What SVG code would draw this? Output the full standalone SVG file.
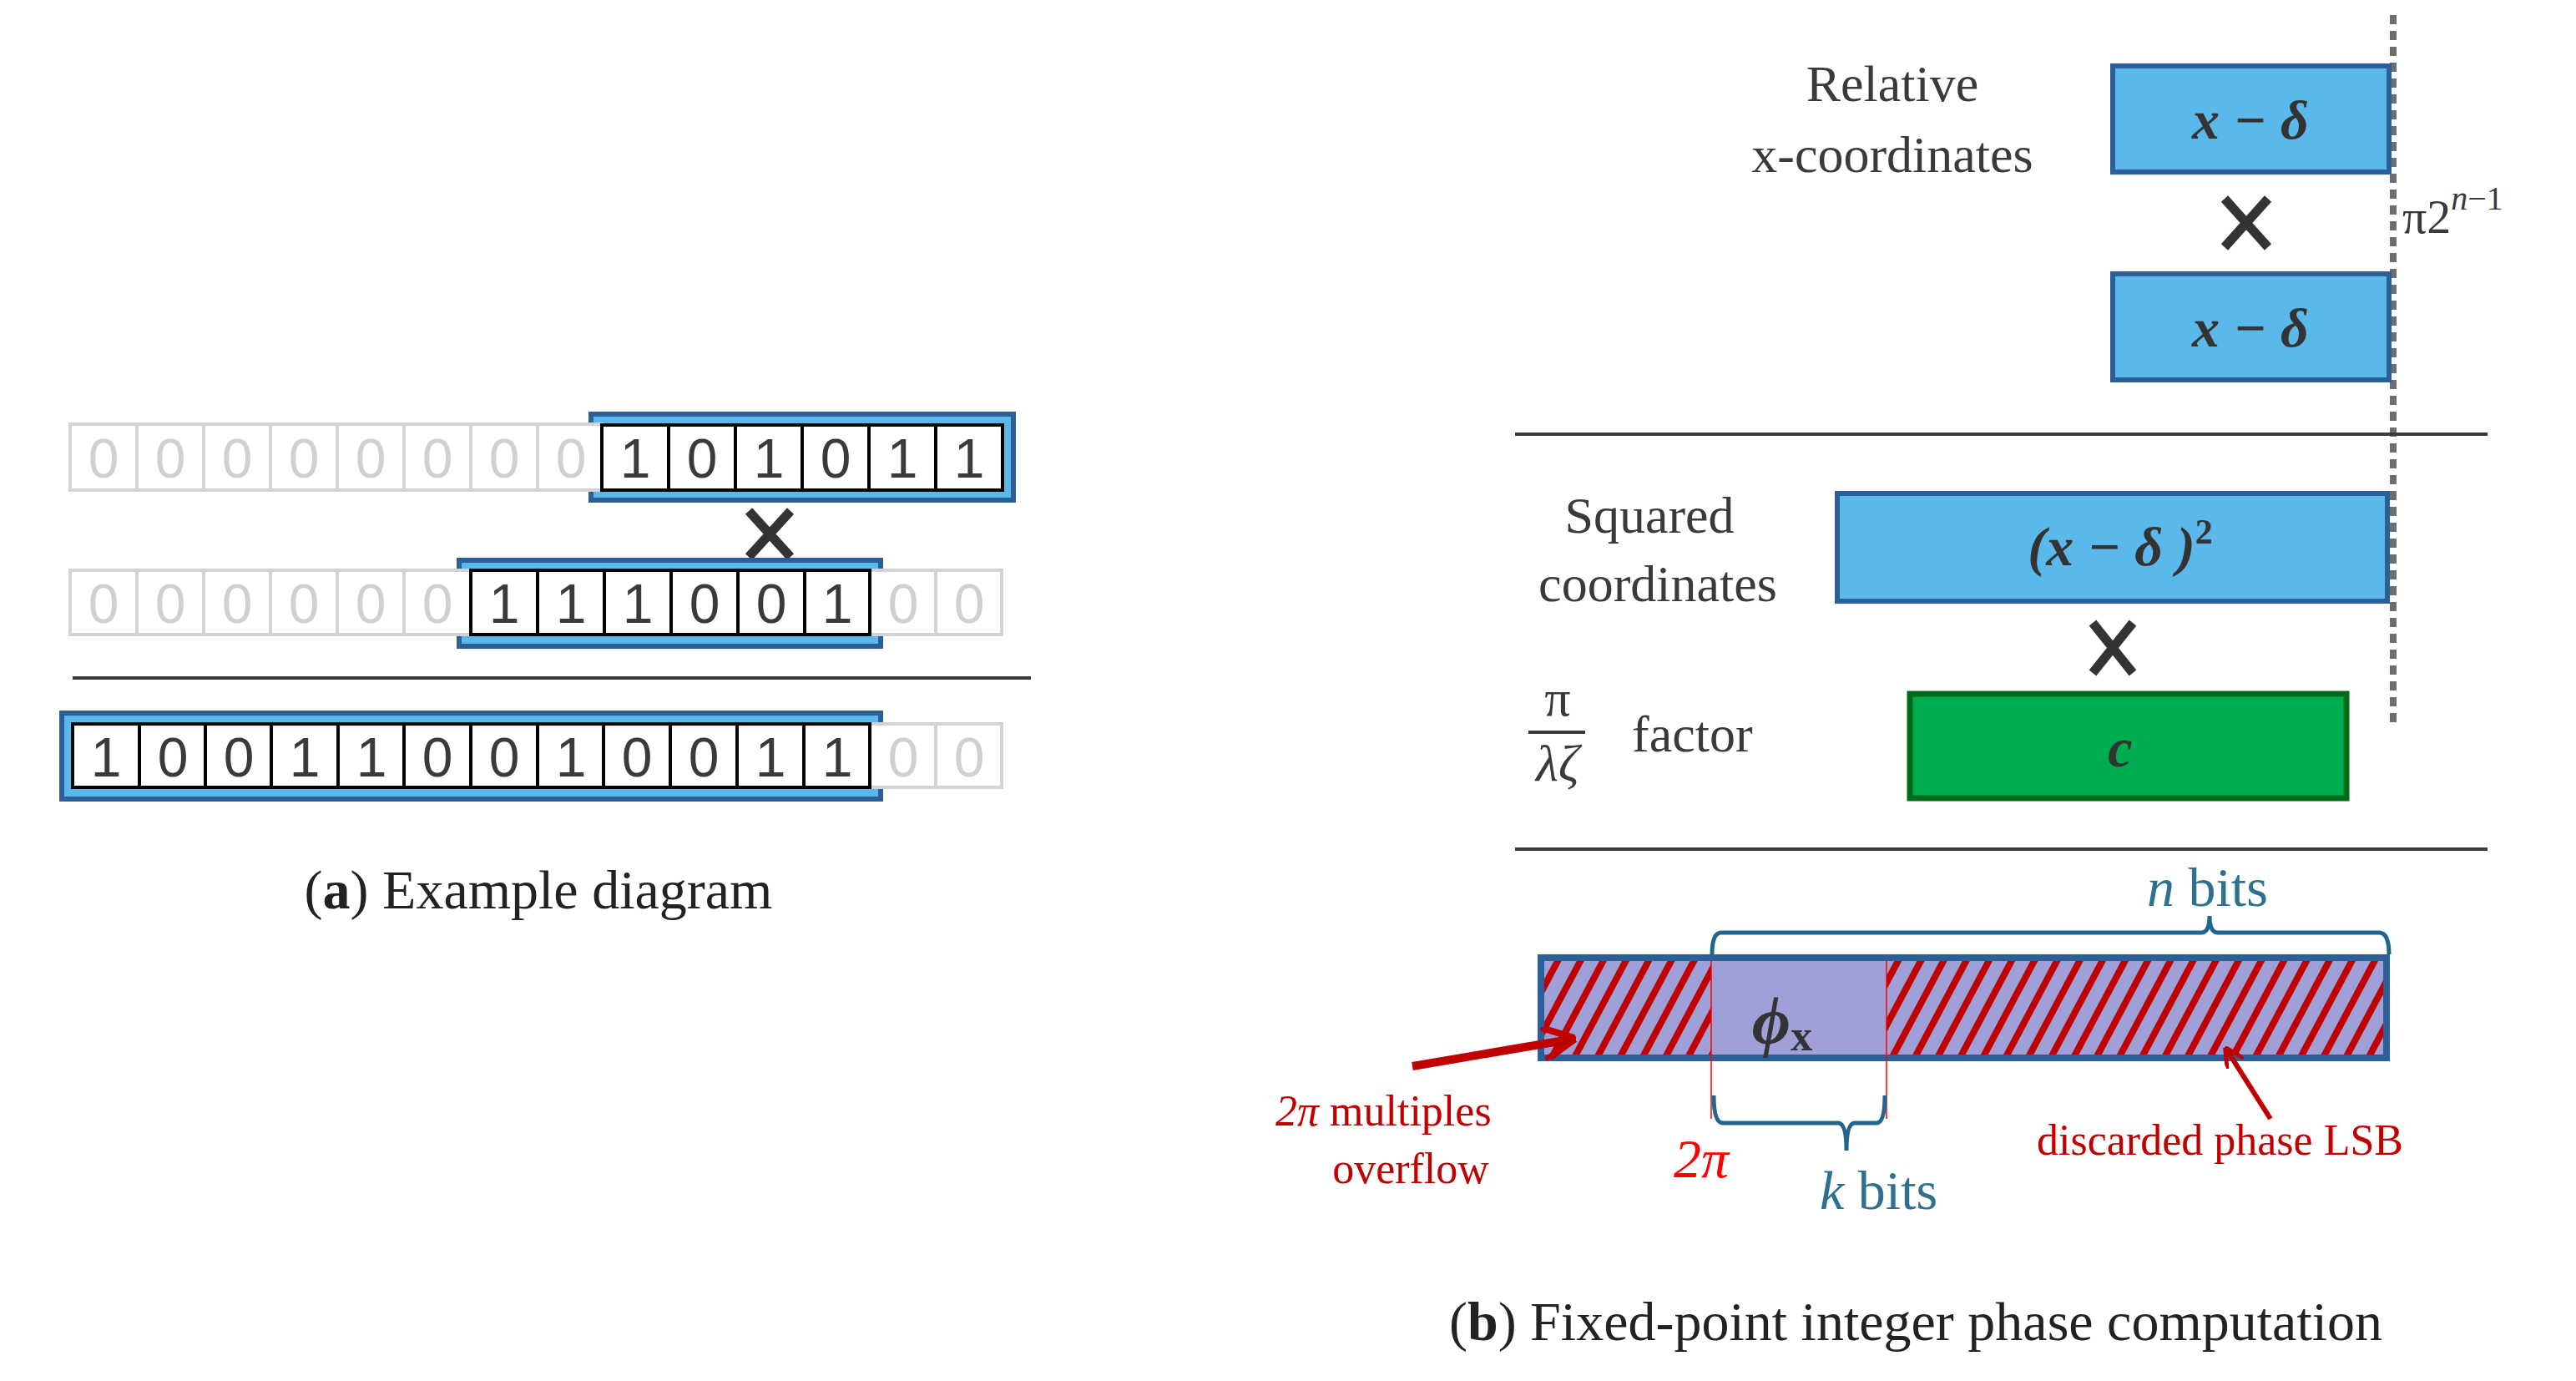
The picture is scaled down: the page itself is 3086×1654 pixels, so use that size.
<svg xmlns="http://www.w3.org/2000/svg" width="3086" height="1654" viewBox="0 0 3086 1654">
<style>
.g{fill:#fff;stroke:#d2d3d5;stroke-width:4}
.gd{font-family:"Liberation Sans",sans-serif;font-size:66px;fill:#d0d0d0;text-anchor:middle}
.b{fill:#fff;stroke:#000;stroke-width:4}
.bd{font-family:"Liberation Sans",sans-serif;font-size:66px;fill:#3a3a3a;text-anchor:middle}
.ob{fill:#5BB8EA;stroke:#2C5F98;stroke-width:6}
.lbl{font-family:"Liberation Serif",serif;font-size:62px;fill:#3a3a3a;text-anchor:middle}
.math{font-family:"Liberation Serif",serif;font-style:italic;font-weight:bold;fill:#333;text-anchor:middle}
.cross{stroke:#333;stroke-width:11}
.rl{font-family:"Liberation Serif",serif;font-size:52px;fill:#C00000}
.tl{font-family:"Liberation Serif",serif;font-size:66px;fill:#2F7090}
.cap{font-family:"Liberation Serif",serif;font-size:66px;fill:#222;text-anchor:middle}
</style>
<defs>
<pattern id="hatch" patternUnits="userSpaceOnUse" width="24" height="24" patternTransform="rotate(28)">
<rect width="24" height="24" fill="#A0A0D8"/>
<rect x="0" y="0" width="8" height="24" fill="#C00000"/>
</pattern>
<marker id="ah" viewBox="0 0 10 10" refX="8" refY="5" markerWidth="4" markerHeight="4" orient="auto">
<path d="M0,0 L10,5 L0,10" fill="none" stroke="#C00000" stroke-width="2"/>
</marker>
</defs>

<g id="row1">
<rect x="708" y="496" width="506" height="103" class="ob"/>
<g class="g"><rect x="84" y="508" width="80" height="79"/><rect x="164" y="508" width="80" height="79"/><rect x="244" y="508" width="80" height="79"/><rect x="324" y="508" width="80" height="79"/><rect x="404" y="508" width="80" height="79"/><rect x="484" y="508" width="80" height="79"/><rect x="564" y="508" width="80" height="79"/><rect x="644" y="508" width="77" height="79"/></g>
<g class="gd"><text x="124" y="572">0</text><text x="204" y="572">0</text><text x="284" y="572">0</text><text x="364" y="572">0</text><text x="444" y="572">0</text><text x="524" y="572">0</text><text x="604" y="572">0</text><text x="684" y="572">0</text></g>
<g class="b"><rect x="721" y="509" width="80" height="78"/><rect x="801" y="509" width="80" height="78"/><rect x="881" y="509" width="80" height="78"/><rect x="961" y="509" width="80" height="78"/><rect x="1041" y="509" width="80" height="78"/><rect x="1121" y="509" width="80" height="78"/></g>
<g class="bd"><text x="761" y="572">1</text><text x="841" y="572">0</text><text x="921" y="572">1</text><text x="1001" y="572">0</text><text x="1081" y="572">1</text><text x="1161" y="572">1</text></g>
</g>
<g id="mul1"><path d="M897,612 L947,667 M947,612 L897,667" class="cross"/></g>
<g id="row2">
<rect x="550" y="671" width="505" height="103" class="ob"/>
<g class="g"><rect x="84" y="683" width="80" height="77"/><rect x="164" y="683" width="80" height="77"/><rect x="244" y="683" width="80" height="77"/><rect x="324" y="683" width="80" height="77"/><rect x="404" y="683" width="80" height="77"/><rect x="484" y="683" width="80" height="77"/><rect x="1042" y="683" width="79" height="77"/><rect x="1121" y="683" width="79" height="77"/></g>
<g class="gd"><text x="124" y="746">0</text><text x="204" y="746">0</text><text x="284" y="746">0</text><text x="364" y="746">0</text><text x="444" y="746">0</text><text x="524" y="746">0</text><text x="1082" y="746">0</text><text x="1161" y="746">0</text></g>
<g class="b"><rect x="564" y="683" width="80" height="77"/><rect x="644" y="683" width="80" height="77"/><rect x="724" y="683" width="80" height="77"/><rect x="804" y="683" width="80" height="77"/><rect x="884" y="683" width="80" height="77"/><rect x="964" y="683" width="78" height="77"/></g>
<g class="bd"><text x="604" y="746">1</text><text x="684" y="746">1</text><text x="764" y="746">1</text><text x="844" y="746">0</text><text x="924" y="746">0</text><text x="1003" y="746">1</text></g>
</g>
<line x1="87" y1="812" x2="1235" y2="812" stroke="#3a3a3a" stroke-width="4"/>
<g id="row3">
<rect x="74" y="854" width="981" height="103" class="ob"/>
<g class="g"><rect x="1042" y="867" width="79" height="76"/><rect x="1121" y="867" width="79" height="76"/></g>
<g class="gd"><text x="1082" y="930">0</text><text x="1161" y="930">0</text></g>
<g class="b"><rect x="87" y="867" width="80" height="76"/><rect x="167" y="867" width="79" height="76"/><rect x="246" y="867" width="79" height="76"/><rect x="325" y="867" width="80" height="76"/><rect x="405" y="867" width="79" height="76"/><rect x="484" y="867" width="80" height="76"/><rect x="564" y="867" width="80" height="76"/><rect x="644" y="867" width="79" height="76"/><rect x="723" y="867" width="80" height="76"/><rect x="803" y="867" width="80" height="76"/><rect x="883" y="867" width="80" height="76"/><rect x="963" y="867" width="79" height="76"/></g>
<g class="bd"><text x="127" y="930">1</text><text x="207" y="930">0</text><text x="286" y="930">0</text><text x="365" y="930">1</text><text x="445" y="930">1</text><text x="524" y="930">0</text><text x="604" y="930">0</text><text x="684" y="930">1</text><text x="763" y="930">0</text><text x="843" y="930">0</text><text x="923" y="930">1</text><text x="1003" y="930">1</text></g>
</g>
<text x="645" y="1088" class="cap">(<tspan font-weight="bold">a</tspan>) Example diagram</text>

<g id="dotted"><line x1="2867" y1="18" x2="2867" y2="872" stroke="#6d6e71" stroke-width="8" stroke-dasharray="11,8"/>
<text x="2878" y="279" font-family="Liberation Serif,serif" font-size="58" fill="#3a3a3a">π2<tspan font-style="italic" font-size="40" dy="-28">n</tspan><tspan font-size="40">−1</tspan></text></g>
<g id="rel"><text x="2267" y="121" class="lbl">Relative</text><text x="2267" y="206" class="lbl">x-coordinates</text></g>
<g id="box1"><rect x="2531" y="79" width="331" height="127" class="ob"/><text x="2696" y="166" class="math" font-size="66">x − δ</text></g>
<g id="mul2"><path d="M2665,238 L2717,296 M2717,238 L2665,296" class="cross"/></g>
<g id="box2"><rect x="2531" y="328" width="331" height="127" class="ob"/><text x="2696" y="415" class="math" font-size="66">x − δ</text></g>
<line x1="1815" y1="520" x2="2980" y2="520" stroke="#3a3a3a" stroke-width="4"/>
<g id="sq"><text x="1976" y="638" class="lbl">Squared</text><text x="1986" y="720" class="lbl">coordinates</text></g>
<g id="box3"><rect x="2201" y="591" width="659" height="129" class="ob"/><text x="2540" y="677" class="math" font-size="66">(x − δ )<tspan font-size="42" dy="-26" font-style="normal">2</tspan></text></g>
<g id="mul3"><path d="M2507,746 L2555,806 M2555,746 L2507,806" class="cross"/></g>
<g id="fac"><text x="1866" y="857" class="lbl" font-size="48">π</text><line x1="1831" y1="877" x2="1899" y2="877" stroke="#3a3a3a" stroke-width="4"/><text x="1866" y="935" class="lbl" font-size="48" font-style="italic">λζ</text><text x="1955" y="900" font-family="Liberation Serif,serif" font-size="62" fill="#3a3a3a">factor</text></g>
<g id="boxc"><rect x="2288" y="831" width="523" height="125" fill="#00AD4E" stroke="#006B18" stroke-width="7"/><text x="2540" y="918" class="math" font-size="66">c</text></g>
<line x1="1815" y1="1017" x2="2980" y2="1017" stroke="#3a3a3a" stroke-width="4"/>

<g id="phase">
<rect x="1846" y="1147" width="1013" height="120" fill="url(#hatch)" stroke="#2C5F98" stroke-width="8"/>
<rect x="2050" y="1151" width="210" height="112" fill="#A0A0D8"/>
<line x1="2050" y1="1151" x2="2050" y2="1340" stroke="#FF0000" stroke-width="1.5"/>
<line x1="2260" y1="1151" x2="2260" y2="1340" stroke="#FF0000" stroke-width="1.5"/>
<text x="2135" y="1250" class="math" font-size="80" font-weight="bold" fill="#333">ϕ<tspan font-size="52" font-style="normal" dy="8">x</tspan></text>
</g>
<g id="braces" fill="none" stroke="#1F6590" stroke-width="5">
<path d="M2051,1143 Q2051,1117 2062,1117 L2637,1117 Q2647,1117 2647,1097 Q2647,1117 2657,1117 L2850,1117 Q2862,1117 2862,1143"/>
<path d="M2053,1312 Q2053,1345 2064,1345 L2202,1345 Q2212,1345 2212,1378 Q2212,1345 2222,1345 L2248,1345 Q2258,1345 2258,1312"/>
</g>
<text x="2572" y="1085" class="tl"><tspan font-style="italic">n</tspan> bits</text>
<text x="2180" y="1448" class="tl"><tspan font-style="italic">k</tspan> bits</text>
<text x="2005" y="1410" font-family="Liberation Serif,serif" font-size="66" font-style="italic" fill="#FF0000">2π</text>
<g id="connectors">
<line x1="1692" y1="1277" x2="1880" y2="1245" stroke="#C00000" stroke-width="10" marker-end="url(#ah)"/>
<line x1="2720" y1="1340" x2="2668" y2="1258" stroke="#C00000" stroke-width="6" marker-end="url(#ah)"/>
</g>
<text x="1528" y="1348" class="rl"><tspan font-style="italic">2π</tspan> multiples</text>
<text x="1690" y="1417" class="rl" text-anchor="middle">overflow</text>
<text x="2440" y="1383" class="rl">discarded phase LSB</text>
<text x="2295" y="1605" class="cap">(<tspan font-weight="bold">b</tspan>) Fixed-point integer phase computation</text>
</svg>
